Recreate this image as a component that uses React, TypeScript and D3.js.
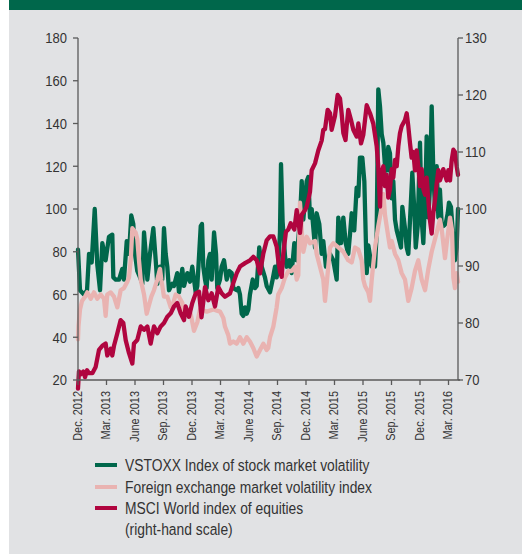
import React from "react";
import * as d3 from "d3";

// x = months since 1 Dec 2012
const tickLabels = ["Dec. 2012","Mar. 2013","June 2013","Sep. 2013","Dec. 2013","Mar. 2014","June 2014","Sep. 2014","Dec. 2014","Mar. 2015","June 2015","Sep. 2015","Dec. 2015","Mar. 2016"];
const tickMonths = [0,3,6,9,12,15,18,21,24,27,30,33,36,39];
const leftTicks = [20,40,60,80,100,120,140,160,180];
const rightTicks = [70,80,90,100,110,120,130];

const vstoxx: [number, number][] = [[0,81],[0.21,62],[0.63,60],[0.95,62],[1.16,79],[1.44,75],[1.76,100],[2.03,74],[2.32,62],[2.56,84],[2.91,76],[3.26,87],[3.61,88],[3.72,68],[3.97,67],[4.32,67],[4.66,72],[4.84,67],[5.13,85],[5.37,79],[5.61,97],[5.82,93],[5.97,80],[6.24,71],[6.53,68],[6.77,65],[6.95,89],[7.13,79],[7.3,67],[7.58,79],[7.93,91],[8.18,76],[8.35,65],[8.63,73],[8.87,67],[9.05,91],[9.23,79],[9.4,73],[9.58,62],[9.93,65],[10.1,64],[10.45,70],[10.63,61],[10.98,72],[11.16,64],[11.51,70],[11.79,66],[12.03,73],[12.21,67],[12.39,61],[12.56,64],[12.92,92],[13.05,93],[13.19,73],[13.37,67],[13.54,63],[13.72,76],[13.89,79],[14.07,67],[14.32,89],[14.53,79],[14.66,63],[14.95,67],[15.12,73],[15.37,76],[15.65,67],[15.93,71],[16.18,70],[16.35,63],[16.71,62],[16.88,63],[17.05,60],[17.23,51],[17.4,50],[17.58,54],[17.76,51],[17.93,53],[18.1,60],[18.39,67],[18.63,63],[18.81,64],[19.08,82],[19.34,73],[19.68,68],[19.86,64],[20.21,61],[20.49,67],[20.74,73],[20.91,68],[21.08,73],[21.26,89],[21.37,121],[21.54,94],[21.79,78],[21.96,73],[22.24,76],[22.49,70],[22.77,84],[23.02,76],[23.37,96],[23.55,113],[23.72,95],[23.89,104],[24.07,113],[24.24,115],[24.42,96],[24.6,100],[24.95,82],[25.12,98],[25.4,93],[25.65,79],[25.82,85],[26.1,73],[26.53,79],[26.87,76],[27.23,67],[27.4,96],[27.68,84],[27.93,96],[28.18,84],[28.45,79],[28.63,88],[28.81,98],[29.08,90],[29.33,110],[29.51,106],[29.68,124],[29.93,124],[30.14,113],[30.39,70],[30.56,83],[30.92,73],[31.26,73],[31.44,89],[31.61,156],[31.79,148],[31.97,135],[32.14,131],[32.32,120],[32.49,118],[32.66,129],[32.84,126],[33.02,105],[33.19,113],[33.37,95],[33.55,90],[33.72,87],[34.0,82],[34.14,101],[34.42,91],[34.6,82],[34.77,79],[34.95,95],[35.19,117],[35.4,100],[35.55,82],[35.76,92],[36.0,131],[36.18,95],[36.35,84],[36.58,110],[36.7,134],[36.88,96],[37.05,110],[37.23,148],[37.4,118],[37.58,100],[37.76,120],[37.93,96],[38.1,109],[38.28,93],[38.45,92],[38.7,93],[38.92,98],[39.05,103],[39.26,101],[39.51,86],[39.68,76],[39.86,82],[40,100]];

const fxVol: [number, number][] = [[0,39],[0.05,45],[0.21,53],[0.42,57],[0.74,59],[0.98,61],[1.34,58],[1.68,61],[2.03,58],[2.39,60],[2.74,58],[2.91,50],[3.08,60],[3.44,61],[3.79,59],[4.14,54],[4.49,62],[4.84,63],[5.19,66],[5.37,68],[5.55,76],[5.72,91],[6.07,89],[6.24,86],[6.42,76],[6.6,67],[6.95,60],[7.23,51],[7.47,55],[7.72,59],[8.0,62],[8.35,67],[8.63,72],[8.77,67],[9.05,59],[9.4,59],[9.76,54],[10.03,56],[10.28,60],[10.63,59],[10.98,56],[11.16,51],[11.51,53],[11.86,51],[12.21,43],[12.56,47],[12.84,53],[13.55,52],[14.24,53],[14.95,52],[15.3,49],[15.47,45],[15.82,41],[16.0,37],[16.35,38],[16.7,37],[17.05,40],[17.4,37],[17.76,40],[18.1,38],[18.45,35],[18.81,31],[19.16,34],[19.51,37],[19.86,34],[20.03,35],[20.21,40],[20.56,45],[20.91,54],[21.08,60],[21.44,63],[21.79,68],[22.14,71],[22.49,71],[22.84,73],[23.02,67],[23.19,69],[23.37,103],[23.55,90],[23.72,80],[24.07,87],[24.42,84],[24.95,85],[25.12,79],[25.47,73],[25.82,67],[26.0,57],[26.18,65],[26.53,82],[26.87,84],[27.4,82],[27.93,80],[28.45,76],[28.81,75],[29.16,82],[29.51,81],[29.86,76],[30.03,67],[30.21,64],[30.56,61],[30.74,57],[30.92,67],[31.26,82],[31.61,92],[31.97,101],[32.14,107],[32.32,97],[32.49,92],[32.66,87],[32.84,82],[33.02,85],[33.37,79],[33.72,76],[34.07,70],[34.42,67],[34.77,57],[35.12,63],[35.47,71],[35.82,76],[36.18,67],[36.53,62],[36.88,72],[37.23,80],[37.58,86],[37.93,92],[38.1,95],[38.3,90],[38.63,77],[38.84,85],[39.16,96],[39.37,90],[39.51,68],[39.68,63],[39.86,70],[40,66]];

const msci: [number, number][] = [[0,68.5],[0.1,71.5],[0.28,71],[0.56,71.5],[0.74,70.5],[0.95,71.7],[1.16,71.2],[1.51,71.2],[1.86,72.3],[2.21,75.3],[2.56,76],[2.91,76.4],[3.08,74.3],[3.44,75.5],[3.61,74.3],[3.79,76],[4.14,78.2],[4.49,80.5],[4.77,80],[5.02,77],[5.37,74.7],[5.72,72.9],[5.89,76.4],[6.24,77],[6.6,79.4],[6.95,78.8],[7.3,79.4],[7.65,76.4],[8.0,79.4],[8.35,78.2],[8.7,79.4],[9.05,80],[9.4,81.1],[9.76,81.7],[10.1,82.9],[10.45,83.5],[10.81,81.7],[11.16,80.5],[11.33,82.9],[11.68,81.1],[12.03,83.5],[12.39,85.2],[12.74,85.5],[13.0,81],[13.37,86.3],[13.72,84],[14.07,85.2],[14.42,82.9],[14.77,86.3],[15.12,85.2],[15.47,84.6],[16.0,85.2],[16.35,87],[16.7,88.7],[17.05,89.9],[17.58,90.5],[18.1,91],[18.45,91.6],[18.81,91],[19.16,88.7],[19.51,92.2],[19.86,94.5],[20.21,95.2],[20.56,95.2],[20.91,93.4],[21.08,91],[21.26,89],[21.44,88.1],[21.61,92.2],[21.89,96],[22.14,96.4],[22.39,97.5],[22.77,96.4],[23.02,99.8],[23.37,95.8],[23.55,99],[23.89,99.8],[24.07,100.4],[24.24,101.6],[24.42,103],[24.6,106.8],[24.95,108],[25.3,110.3],[25.65,112],[25.82,113.9],[26.0,114],[26.28,117.4],[26.53,116.8],[26.7,113.9],[27.05,116.3],[27.33,120],[27.58,119.4],[27.75,116.8],[27.93,113.3],[28.16,112.1],[28.28,114.5],[28.45,117.4],[28.74,115.6],[28.98,113.9],[29.33,112.7],[29.51,115],[29.79,111.5],[30.03,113],[30.39,118.2],[30.74,116.8],[31.08,115],[31.44,111],[31.61,107.5],[31.79,100.4],[31.89,106],[32.14,107.5],[32.32,104],[32.49,106],[32.66,102],[32.84,103.5],[33.02,107],[33.19,105.5],[33.37,108.6],[33.55,107.5],[33.72,111],[33.89,113.3],[34.07,114.5],[34.42,115.6],[34.6,116.8],[34.77,114.5],[34.95,111.5],[35.12,109],[35.3,110],[35.47,106.8],[35.65,110.3],[35.82,107.5],[36.0,104],[36.18,107],[36.35,103.5],[36.53,102.5],[36.7,105.5],[36.88,101.5],[37.05,98],[37.23,95.7],[37.4,99.2],[37.58,101.6],[37.76,104.5],[37.93,106.8],[38.1,105],[38.28,106],[38.45,107],[38.63,106],[38.81,105],[38.98,106.8],[39.16,105],[39.34,108.6],[39.51,110.4],[39.68,110],[39.86,107.5],[40,106]];

const legendLabels = ["VSTOXX Index of stock market volatility", "Foreign exchange market volatility index", "MSCI World index of equities"];

const GREEN = "#00674b";
const PINK = "#e9b3b1";
const CRIMSON = "#b0053f";
const BG = "#e1e2e4";
const AXIS = "#5a5a5a";
const TEXT = "#333333";
const FONT = "'Liberation Sans', Arial, sans-serif";
const NARROW = 0.84;

function NText(props: { x: number; y: number; rotate?: number; anchor?: string; size: number; children: React.ReactNode }) {
  const { x, y, rotate = 0, anchor = "start", size, children } = props;
  return (
    <text
      transform={`translate(${x},${y}) rotate(${rotate}) scale(${NARROW},1)`}
      dy="0.35em"
      textAnchor={anchor}
      fontSize={size}
      fill={TEXT}
    >
      {children}
    </text>
  );
}

export default function App() {
  const W = 522, H = 554;
  const x = d3.scaleLinear().domain([0, 40]).range([78, 458]);
  const yL = d3.scaleLinear().domain([20, 180]).range([380, 38]);
  const yR = d3.scaleLinear().domain([70, 130]).range([380, 38]);

  const lineL = d3.line<[number, number]>().x(d => x(d[0])).y(d => yL(d[1]));
  const lineR = d3.line<[number, number]>().x(d => x(d[0])).y(d => yR(d[1]));

  const legendColors = [GREEN, PINK, CRIMSON];
  const legendY = [465, 487, 508];
  const SW = 4.3;

  return (
    <div style={{ position: "absolute", left: 0, top: 0 }}>
      <svg width={W} height={H} style={{ display: "block" }} fontFamily={FONT}>
        <rect x={0} y={0} width={W} height={H} fill="#ffffff" />
        <rect x={9} y={0} width={W - 9} height={H} fill={BG} />
        <rect x={9} y={0} width={W - 9} height={10} fill={GREEN} />

        {/* series */}
        <path d={lineL(vstoxx) || ""} fill="none" stroke={GREEN} strokeWidth={SW} strokeLinejoin="round" strokeLinecap="round" />
        <path d={lineL(fxVol) || ""} fill="none" stroke={PINK} strokeWidth={SW} strokeLinejoin="round" strokeLinecap="round" />
        <path d={lineR(msci) || ""} fill="none" stroke={CRIMSON} strokeWidth={SW} strokeLinejoin="round" strokeLinecap="round" />

        {/* axes */}
        <line x1={x(0)} x2={x(0)} y1={yL(180)} y2={yL(20)} stroke={AXIS} strokeWidth={1.3} />
        <line x1={x(40)} x2={x(40)} y1={yR(130)} y2={yR(70)} stroke={AXIS} strokeWidth={1.3} />
        <line x1={x(0)} x2={x(40) + 2} y1={yL(20)} y2={yL(20)} stroke={AXIS} strokeWidth={1.3} />

        {leftTicks.map(t => (
          <g key={"l" + t}>
            <line x1={x(0) - 5} x2={x(0)} y1={yL(t)} y2={yL(t)} stroke={AXIS} strokeWidth={1.3} />
            <NText x={x(0) - 11} y={yL(t)} anchor="end" size={15.5}>{t}</NText>
          </g>
        ))}
        {rightTicks.map(t => (
          <g key={"r" + t}>
            <line x1={x(40)} x2={x(40) + 5} y1={yR(t)} y2={yR(t)} stroke={AXIS} strokeWidth={1.3} />
            <NText x={x(40) + 7} y={yR(t)} anchor="start" size={15.5}>{t}</NText>
          </g>
        ))}
        {tickMonths.map((m, i) => (
          <g key={"x" + m}>
            <line x1={x(m)} x2={x(m)} y1={yL(20)} y2={yL(20) + 5} stroke={AXIS} strokeWidth={1.3} />
            <NText x={x(m) - 1} y={yL(20) + 11} rotate={-90} anchor="end" size={13}>{tickLabels[i]}</NText>
          </g>
        ))}

        {/* legend */}
        {legendLabels.map((lab, i) => (
          <g key={lab}>
            <line x1={95} x2={117} y1={legendY[i]} y2={legendY[i]} stroke={legendColors[i]} strokeWidth={4} />
            <NText x={125} y={legendY[i]} size={16.5}>{lab}</NText>
          </g>
        ))}
        <NText x={125} y={529} size={16.5}>(right-hand scale)</NText>
      </svg>
    </div>
  );
}
